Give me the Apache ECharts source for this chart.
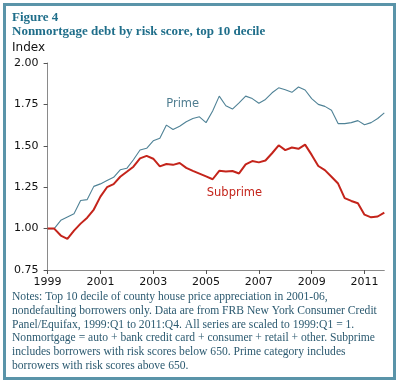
<!DOCTYPE html>
<html><head><meta charset="utf-8">
<script src="https://cdn.jsdelivr.net/npm/echarts@6/dist/echarts.min.js"></script>
<style>html,body{margin:0;padding:0;background:#fff}#c{width:400px;height:386px}</style>
</head><body><div id="c"></div>
<script>
var years = [1999,2000,2001,2002,2003,2004,2005,2006,2007,2008,2009,2010,2011];
var quarters = [];
years.forEach(function(y){for(var q=1;q<=4;q++)quarters.push(y+':Q'+q);});
var prime = [1.00,1.00,1.05,1.07,1.09,1.17,1.175,1.255,1.27,1.29,1.31,1.355,1.364,1.416,1.475,1.485,1.53,1.545,1.625,1.598,1.618,1.645,1.665,1.675,1.64,1.71,1.80,1.742,1.722,1.759,1.80,1.785,1.757,1.78,1.82,1.85,1.838,1.823,1.855,1.837,1.785,1.75,1.738,1.715,1.634,1.634,1.64,1.652,1.627,1.64,1.665,1.699];
var subprime = [1.00,1.00,0.958,0.938,0.988,1.03,1.066,1.115,1.193,1.25,1.269,1.313,1.343,1.374,1.424,1.439,1.422,1.376,1.39,1.385,1.396,1.367,1.349,1.332,1.315,1.298,1.349,1.345,1.348,1.333,1.388,1.408,1.40,1.411,1.455,1.503,1.474,1.49,1.482,1.507,1.445,1.378,1.353,1.313,1.272,1.184,1.167,1.153,1.084,1.068,1.073,1.097];
var yTicks = [0.75,1.00,1.25,1.50,1.75,2.00];
var notes = [
 'Notes: Top 10 decile of county house price appreciation in 2001-06,',
 'nondefaulting borrowers only. Data are from FRB New York Consumer Credit',
 'Panel/Equifax, 1999:Q1 to 2011:Q4. All series are scaled to 1999:Q1 = 1.',
 'Nonmortgage = auto + bank credit card + consumer + retail + other. Subprime',
 'includes borrowers with risk scores below 650. Prime category includes',
 'borrowers with risk scores above 650.'
];
var chart = echarts.init(document.getElementById('c'));
var serif = '"Liberation Serif", "DejaVu Serif", serif';
var sans = '"DejaVu Sans", Verdana, sans-serif';
chart.setOption({
  animation:false,
  backgroundColor:'#fff',
  grid:{left:47.6,right:15.7,top:63,bottom:116},
  xAxis:{type:'category',data:quarters,boundaryGap:false,
    axisLine:{lineStyle:{color:'#8a8a8a',width:1}},
    axisTick:{show:true,length:4,interval:function(i){return i%8===0;},lineStyle:{color:'#555'}},
    axisLabel:{interval:function(i){return i%8===0;},formatter:function(v){return v.split(':')[0];},
      color:'#111',fontFamily:sans,fontSize:11,margin:7},
    splitLine:{show:false}},
  yAxis:{type:'value',min:0.75,max:2.0,interval:0.25,
    axisLine:{show:true,lineStyle:{color:'#8a8a8a',width:1}},
    axisTick:{show:true,length:4,lineStyle:{color:'#555'}},
    axisLabel:{formatter:function(v){return v.toFixed(2);},color:'#111',fontFamily:sans,fontSize:11,margin:9},
    splitLine:{show:false}},
  series:[
    {name:'Prime',type:'line',data:prime,symbol:'none',lineStyle:{color:'#4f8296',width:1.1},
     markPoint:{symbol:'circle',symbolSize:0,silent:true,data:[{coord:[20,1.755],label:{show:true,position:'inside',offset:[3,0],formatter:'Prime',color:'#4f7d90',fontFamily:sans,fontSize:11.5}}]}},
    {name:'Subprime',type:'line',data:subprime,symbol:'none',lineStyle:{color:'#c4241b',width:2},
     markPoint:{symbol:'circle',symbolSize:0,silent:true,data:[{coord:[28,1.217],label:{show:true,position:'inside',offset:[2,0],formatter:'Subprime',color:'#c4241b',fontFamily:sans,fontSize:11.5}}]}}
  ],
  graphic:[
    {type:'rect',shape:{x:4.5,y:4.5,width:390,height:374},style:{fill:'none',stroke:'#5a94a9',lineWidth:3},z:100},
    {type:'text',left:12,top:11,style:{text:'Figure 4',font:'bold 13px '+serif,fill:'#1f6e8a'}},
    {type:'text',left:12,top:25,style:{text:'Nonmortgage debt by risk score, top 10 decile',font:'bold 13px '+serif,fill:'#1f6e8a'}},
    {type:'text',left:12,top:42,style:{text:'Index',font:'12px '+sans,fill:'#111'}},
    {type:'text',left:12,top:290,style:{text:notes.join('\n'),font:'11.6px '+serif,fill:'#2c5a70',lineHeight:13.8}}
  ]
});
</script></body></html>
